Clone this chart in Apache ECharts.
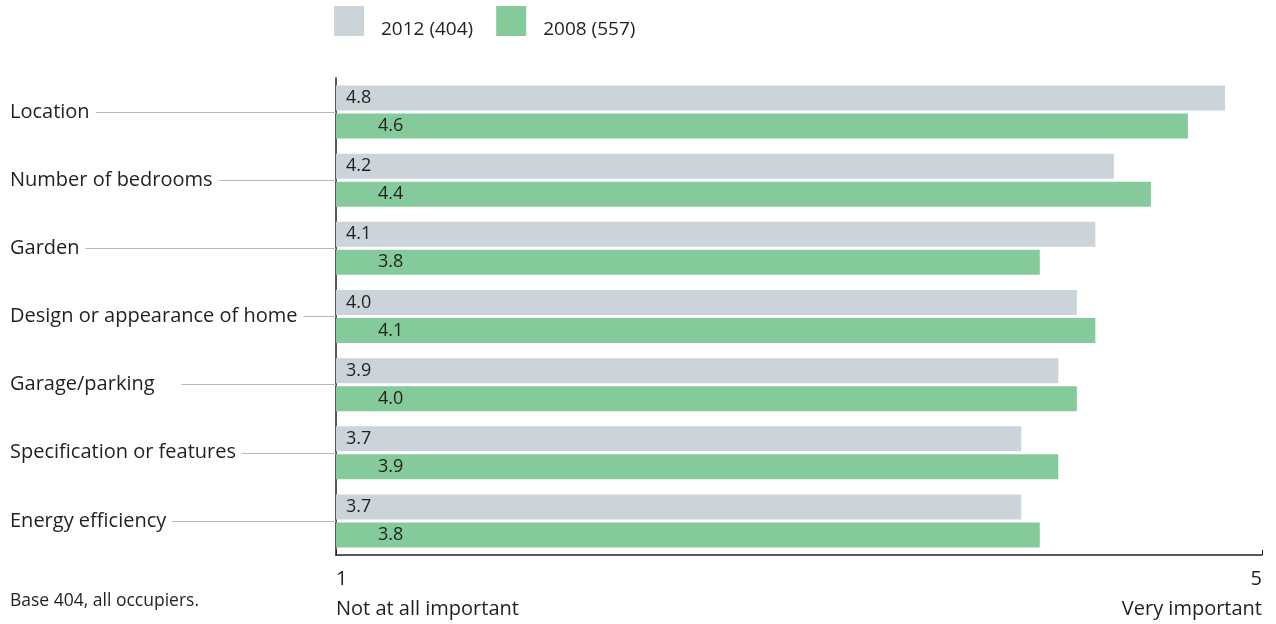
<!DOCTYPE html>
<html>
<head>
<meta charset="utf-8">
<title>Importance of home features</title>
<script src="https://cdn.jsdelivr.net/npm/echarts@6/dist/echarts.min.js"></script>
<style>
  html, body { margin: 0; padding: 0; background: #fff; }
  #chart { width: 1276px; height: 624px; }
</style>
</head>
<body>
<div id="chart"></div>
<script>
// Features rated, top to bottom
const categories = [
  'Location',
  'Number of bedrooms',
  'Garden',
  'Design or appearance of home',
  'Garage/parking    ',
  'Specification or features',
  'Energy efficiency'
];
// Mean importance score per feature
const values2012 = [4.8, 4.2, 4.1, 4.0, 3.9, 3.7, 3.7];
const values2008 = [4.6, 4.4, 3.8, 4.1, 4.0, 3.9, 3.8];
const seriesNames = ['2012 (404)', '2008 (557)'];
// Scale end labels
const tickLabels = ['1', '5'];
const endLabels = ['Not at all important', 'Very important'];
const baseNote = 'Base 404, all occupiers.';

const FONT = '"Open Sans", "Noto Sans", sans-serif';
const TEXT = '#231f20';
const GREY = '#cad4d9';
const GREEN = '#84ca9b';

const chart = echarts.init(document.getElementById('chart'));

chart.setOption({
  animation: false,
  textStyle: { fontFamily: FONT, color: TEXT },
  legend: {
    top: 1,
    left: 329,
    itemWidth: 30,
    itemHeight: 30,
    itemGap: 23,
    icon: 'rect',
    formatter: name => '{t|' + name + '}',
    textStyle: {
      fontFamily: FONT,
      fontSize: 19,
      color: TEXT,
      rich: {
        t: {
          fontFamily: FONT,
          fontSize: 19,
          color: TEXT,
          padding: [17, 0, 0, 12]
        }
      }
    },
    data: seriesNames
  },
  grid: { left: 336, right: 14, top: 78, bottom: 66, containLabel: false },
  xAxis: {
    type: 'value',
    min: 0,
    max: 5,
    interval: 5,
    splitLine: { show: false },
    axisLine: { show: true, lineStyle: { color: '#222', width: 1.5 } },
    axisTick: { show: true, inside: true, length: 5, lineStyle: { color: '#222', width: 1 } },
    axisLabel: {
      show: true,
      margin: 9,
      alignMinLabel: 'left',
      alignMaxLabel: 'right',
      fontFamily: FONT,
      fontSize: 20,
      color: TEXT,
      lineHeight: 30,
      formatter: v => (v === 0 ? tickLabels[0] + '\n' + endLabels[0] : tickLabels[1] + '\n' + endLabels[1])
    }
  },
  yAxis: {
    type: 'category',
    inverse: true,
    data: categories,
    axisLine: { show: true, lineStyle: { color: '#222', width: 1.5 } },
    axisTick: {
      show: true,
      alignWithLabel: true,
      length: 326,
      lineStyle: { color: '#b8b8b8', width: 1 }
    },
    axisLabel: {
      margin: 326,
      align: 'left',
      verticalAlign: 'middle',
      fontFamily: FONT,
      fontSize: 20,
      color: TEXT,
      backgroundColor: '#fff',
      padding: [0, 6, 3, 0]
    }
  },
  series: [
    {
      name: seriesNames[0],
      type: 'bar',
      data: values2012,
      barWidth: 25,
      barGap: '12%',
      itemStyle: { color: GREY },
      label: {
        show: true,
        position: 'insideLeft',
        distance: 10,
        fontFamily: FONT,
        fontSize: 18,
        color: TEXT,
        formatter: p => p.value.toFixed(1)
      }
    },
    {
      name: seriesNames[1],
      type: 'bar',
      data: values2008,
      barWidth: 25,
      barGap: '12%',
      itemStyle: { color: GREEN },
      label: {
        show: true,
        position: 'insideLeft',
        distance: 42,
        fontFamily: FONT,
        fontSize: 18,
        color: TEXT,
        formatter: p => p.value.toFixed(1)
      }
    }
  ],
  graphic: [
    {
      type: 'text',
      left: 10,
      top: 592,
      style: { text: baseNote, fontFamily: FONT, fontSize: 17.5, fill: TEXT }
    }
  ]
});
</script>
</body>
</html>
